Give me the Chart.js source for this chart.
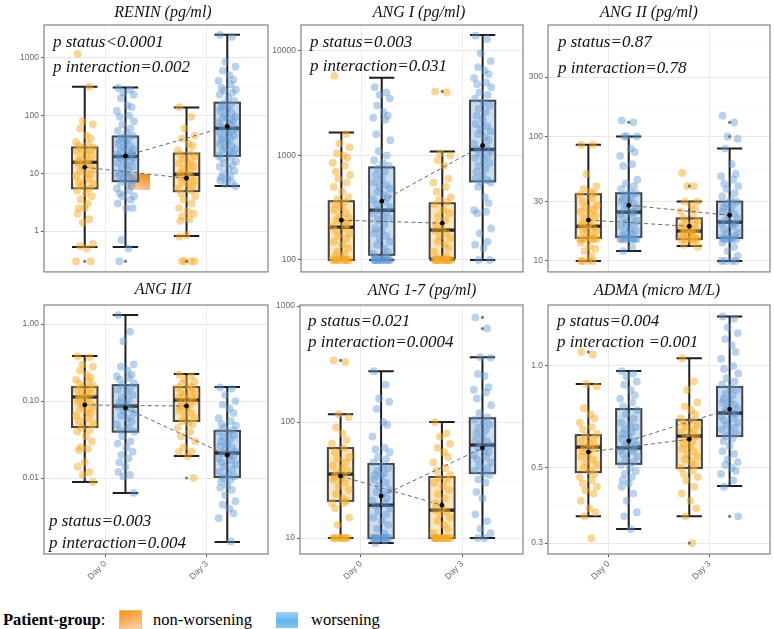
<!DOCTYPE html>
<html>
<head>
<meta charset="utf-8">
<script src="https://cdn.jsdelivr.net/npm/chart.js@4.4.0/dist/chart.umd.min.js"></script>
<style>
  body { margin: 0; width: 774px; height: 629px; overflow: hidden; background: #fff; position: relative; font-family: "Liberation Serif", serif; }
  canvas { position: absolute; }
  .title { position: absolute; font-style: italic; font-size: 16px; line-height: 20px; color: #111; white-space: nowrap; transform: translateX(-50%); }
  .pval { position: absolute; font-style: italic; font-size: 17px; line-height: 20px; color: #111; white-space: nowrap; }
  .lg { position: absolute; font-size: 16.5px; line-height: 20px; color: #000; white-space: nowrap; }
  .key { position: absolute; box-sizing: border-box; }
</style>
</head>
<body>
<div class="lg" style="left:3px; top:610px;"><b>Patient-group</b>:</div>
<div class="key" style="left:119px; top:610px; width:23px; height:22px; border:1.5px solid #f8c234; background:linear-gradient(160deg, #f7901a, #fbc48a 70%, #fde2c4);"></div>
<div class="lg" style="left:153px; top:610px;">non-worsening</div>
<div class="key" style="left:276px; top:612px; width:22px; height:16px; background:linear-gradient(180deg, #9fd3f2, #5cb6ea 60%, #8ccbf0);"></div>
<div class="lg" style="left:311px; top:610px;">worsening</div>
<div class="key" style="left:128px; top:173px; width:22px; height:17px; background:linear-gradient(200deg, #f5860e, #f9b069 55%, #fde0c2);"></div>

<script>
// groups in drawing order: non-worsening Day 0, worsening Day 0, non-worsening Day 3, worsening Day 3
const days = ['Day 0', 'Day 3'];
const groups = ['non-worsening', 'worsening'];

// box stats per group: [lower whisker, q1, median, q3, upper whisker, mean]
const reninBox = [
  [0.53, 5.5, 15.5, 28, 316, 12.7],
  [0.53, 7.3, 19.5, 43.5, 305, 20],
  [0.82, 4.9, 9.6, 22, 138, 8.2],
  [6, 20, 60, 167, 2500, 65]
];
const reninPts = [
  [1170, 316, 80, 70, 60, 45, 40, 35, 32, 30, 28, 27, 25, 24, 22, 20, 18, 17, 16, 15.5, 15, 14, 13, 12, 11, 10, 9.5, 9, 8, 7, 6.5, 6, 5.5, 5, 4.5, 4, 3.5, 3, 2.5, 2.5, 2, 1.6, 1.4, 0.6, 0.55, 0.5, 0.3, 0.3],
  [300, 280, 250, 230, 200, 150, 140, 120, 100, 95, 80, 70, 60, 55, 50, 45, 42, 40, 38, 35, 32, 30, 28, 26, 25, 24, 22, 21, 20, 19, 18, 17, 16, 15, 14, 13, 12, 11, 10, 9.5, 9, 8.5, 8, 7.5, 7, 6.5, 6, 5.5, 5, 4.5, 4, 4, 3.5, 3, 2.5, 2.5, 0.7, 0.5, 0.3],
  [140, 95, 60, 45, 40, 32, 30, 25, 22, 21, 20, 18, 16, 15, 14, 13, 12, 11, 10, 9.5, 9, 8.5, 8, 7.5, 7, 6.5, 6, 5.5, 5, 4.5, 4, 3.5, 3, 2.5, 2.2, 2, 1.8, 1.6, 1.5, 0.85, 0.8, 0.3, 0.3, 0.3, 0.3],
  [2500, 2300, 850, 700, 600, 500, 420, 400, 350, 300, 280, 270, 250, 230, 200, 180, 160, 150, 140, 130, 120, 110, 100, 95, 90, 85, 80, 75, 70, 65, 60, 58, 55, 50, 48, 45, 42, 40, 38, 35, 32, 30, 28, 26, 25, 24, 22, 20, 19, 18, 16, 15, 14, 13, 12, 11, 10, 9, 8.5, 8, 7.5, 7, 6.5, 6]
];
const reninOut = [[0.3], [0.3], [0.3], []];
const reninTicks = [1, 10, 100, 1000];
const reninLabels = ['1', '10', '100', '1000'];
const reninMinor = [0.316, 3.16, 31.6, 316, 3162];

const angIBox = [
  [100, 100, 206, 365, 1655, 240],
  [100, 112, 299, 769, 5530, 365],
  [100, 104, 193, 349, 1090, 225],
  [100, 565, 1140, 3340, 14200, 1245]
];
const angIPts = [
  [5800, 1600, 1300, 1200, 1050, 1000, 950, 850, 800, 700, 650, 600, 550, 500, 450, 400, 380, 360, 340, 320, 300, 280, 260, 250, 240, 230, 220, 210, 200, 190, 180, 170, 160, 150, 140, 130, 120, 115, 110, 105, 100, 100, 100, 100, 100, 100, 100, 100, 100, 100],
  [4500, 4000, 3800, 3500, 3000, 2600, 2400, 2300, 2200, 1600, 1400, 1100, 1000, 900, 850, 800, 750, 700, 650, 600, 550, 520, 500, 480, 450, 420, 400, 380, 360, 340, 320, 300, 290, 280, 260, 250, 240, 220, 200, 190, 180, 170, 160, 150, 140, 130, 120, 115, 110, 105, 100, 100, 100, 100, 100, 100, 100, 100, 100, 100, 100],
  [4100, 4000, 1050, 1000, 900, 800, 600, 550, 500, 450, 400, 380, 360, 340, 300, 280, 260, 240, 220, 200, 190, 180, 170, 160, 150, 140, 130, 120, 110, 105, 100, 100, 100, 100, 100, 100, 100, 100, 100, 100, 100, 100],
  [14000, 13000, 9500, 8000, 7000, 6500, 6000, 5500, 5000, 4800, 4500, 4000, 3800, 3500, 3200, 3000, 2800, 2600, 2400, 2200, 2000, 1900, 1800, 1700, 1600, 1500, 1400, 1300, 1200, 1150, 1100, 1050, 1000, 950, 900, 850, 800, 750, 700, 650, 600, 580, 560, 550, 500, 400, 350, 300, 290, 280, 200, 180, 150, 140, 130, 100, 100]
];
const angIOut = [[], [], [4100], []];
const angITicks = [100, 1000, 10000];
const angILabels = ['100', '1000', '10000'];
const angIMinor = [316, 3162];

const angIIBox = [
  [10, 15.3, 19, 34.4, 86, 21.3],
  [12, 15.6, 24.7, 35, 100, 28],
  [13.2, 15, 17.4, 22, 30, 19],
  [10, 15.3, 20.5, 30, 80, 23.3]
];
const angIIPts = [
  [86, 86, 50, 40, 38, 36, 35, 34, 32, 30, 28, 27, 26, 25, 24, 23, 22, 21, 20, 19.5, 19, 18.5, 18, 17.5, 17, 16, 15.5, 15, 15, 15, 15, 15, 15, 14, 13, 12.5, 12, 11, 10, 10, 10, 10],
  [135, 130, 100, 100, 100, 80, 75, 70, 60, 58, 45, 42, 40, 38, 36, 35, 34, 33, 32, 30, 30, 29, 28, 27, 26, 25, 25, 24, 23, 22, 21, 20, 20, 19, 18, 17.5, 17, 16.5, 16, 15.5, 15, 15, 15, 15, 15, 15, 15, 15, 13, 12],
  [51, 40, 40, 30, 30, 28, 26, 25, 24, 22, 21, 20, 20, 19, 18, 18, 17.5, 17, 17, 16.5, 16, 15.5, 15, 15, 15, 15, 15, 15, 14, 13.5, 13],
  [147, 130, 100, 96, 80, 60, 50, 48, 45, 42, 40, 38, 35, 33, 31, 30, 29, 28, 27, 26, 25, 24, 23, 22, 21, 20, 20, 20, 19, 18, 17, 16.5, 16, 15.5, 15, 15, 15, 15, 15, 15, 14, 13, 12, 11, 10, 10, 10, 10]
];
const angIIOut = [[], [130], [40], [130, 100]];
const angIITicks = [10, 30, 100, 300];
const angIILabels = ['10', '30', '100', '300'];
const angIIMinor = [17.3, 54.8, 173, 548];

const ratioBox = [
  [0.0089, 0.046, 0.113, 0.152, 0.384, 0.089],
  [0.0064, 0.040, 0.086, 0.161, 1.31, 0.081],
  [0.0193, 0.055, 0.103, 0.152, 0.224, 0.086],
  [0.00148, 0.0103, 0.0211, 0.041, 0.152, 0.0198]
];
const ratioPts = [
  [0.38, 0.37, 0.3, 0.28, 0.25, 0.22, 0.2, 0.19, 0.18, 0.17, 0.16, 0.15, 0.15, 0.14, 0.13, 0.125, 0.12, 0.115, 0.11, 0.105, 0.1, 0.095, 0.09, 0.085, 0.08, 0.075, 0.07, 0.065, 0.06, 0.055, 0.05, 0.045, 0.042, 0.04, 0.035, 0.03, 0.025, 0.024, 0.023, 0.016, 0.014, 0.012, 0.011, 0.0089],
  [1.31, 0.8, 0.6, 0.3, 0.28, 0.25, 0.22, 0.21, 0.2, 0.19, 0.17, 0.16, 0.15, 0.14, 0.13, 0.12, 0.11, 0.1, 0.095, 0.09, 0.085, 0.08, 0.075, 0.07, 0.065, 0.06, 0.055, 0.05, 0.045, 0.042, 0.04, 0.035, 0.03, 0.028, 0.025, 0.022, 0.02, 0.018, 0.016, 0.014, 0.012, 0.011, 0.0105, 0.0064],
  [0.22, 0.21, 0.19, 0.18, 0.17, 0.16, 0.15, 0.15, 0.14, 0.13, 0.125, 0.12, 0.115, 0.11, 0.105, 0.1, 0.095, 0.09, 0.085, 0.08, 0.075, 0.07, 0.065, 0.06, 0.055, 0.052, 0.05, 0.045, 0.04, 0.035, 0.03, 0.025, 0.022, 0.022, 0.0193, 0.01],
  [0.15, 0.145, 0.12, 0.1, 0.09, 0.08, 0.07, 0.06, 0.055, 0.05, 0.048, 0.045, 0.042, 0.04, 0.038, 0.036, 0.034, 0.032, 0.03, 0.028, 0.026, 0.025, 0.024, 0.022, 0.021, 0.02, 0.019, 0.018, 0.017, 0.016, 0.015, 0.014, 0.013, 0.012, 0.011, 0.0105, 0.01, 0.0095, 0.009, 0.008, 0.0075, 0.007, 0.006, 0.005, 0.0045, 0.004, 0.0035, 0.003, 0.0015]
];
const ratioOut = [[], [], [0.01], []];
const ratioTicks = [0.01, 0.1, 1];
const ratioLabels = ['0.01', '0.10', '1.00'];
const ratioMinor = [0.00316, 0.0316, 0.316];

const ang17Box = [
  [10, 20.9, 35.6, 59.7, 117, 34.2],
  [9.06, 10, 19.2, 43.5, 275, 23],
  [10, 10, 17.4, 33.6, 100, 19.2],
  [10, 36.3, 63.4, 108, 363, 59.7]
];
const ang17Pts = [
  [340, 330, 117, 110, 90, 80, 70, 65, 60, 55, 50, 48, 45, 42, 40, 38, 36, 35, 34, 33, 32, 30, 28, 26, 24, 22, 21, 20, 20, 18, 15, 13, 10, 10, 10, 10, 10, 10, 10, 10],
  [275, 210, 160, 150, 130, 100, 95, 75, 60, 58, 55, 50, 48, 45, 42, 40, 38, 36, 35, 34, 32, 30, 28, 26, 25, 24, 22, 21, 20, 19, 18, 17, 16, 15, 14, 13, 12, 11, 10, 10, 10, 10, 10, 10, 10, 10, 10, 10, 9.5, 9.06],
  [100, 80, 75, 65, 60, 55, 50, 45, 40, 38, 35, 33, 32, 30, 28, 26, 24, 22, 20, 18, 17.5, 17, 16, 15, 14, 13, 12, 11, 10, 10, 10, 10, 10, 10, 10, 10, 10, 10, 10, 10, 10],
  [800, 640, 363, 360, 260, 250, 200, 190, 180, 160, 140, 120, 110, 105, 100, 95, 90, 85, 80, 75, 70, 68, 65, 63, 60, 58, 55, 52, 50, 48, 45, 42, 40, 38, 36, 35, 32, 30, 25, 22, 16, 14, 12, 11, 10, 10]
];
const ang17Out = [[340], [], [], [800, 640]];
const ang17Ticks = [10, 100, 1000];
const ang17Labels = ['10', '100', '1000'];
const ang17Minor = [31.6, 316];

const admaBox = [
  [0.36, 0.486, 0.576, 0.625, 0.885, 0.557],
  [0.33, 0.514, 0.573, 0.746, 0.966, 0.601],
  [0.36, 0.5, 0.621, 0.693, 1.054, 0.608],
  [0.442, 0.621, 0.726, 0.867, 1.40, 0.746]
];
const admaPts = [
  [1.1, 1.08, 0.885, 0.87, 0.75, 0.72, 0.7, 0.68, 0.66, 0.65, 0.63, 0.62, 0.61, 0.6, 0.59, 0.58, 0.575, 0.57, 0.56, 0.55, 0.54, 0.53, 0.52, 0.51, 0.5, 0.49, 0.48, 0.47, 0.46, 0.45, 0.44, 0.43, 0.42, 0.40, 0.38, 0.37, 0.36, 0.31],
  [0.966, 0.95, 0.93, 0.9, 0.88, 0.85, 0.82, 0.8, 0.78, 0.76, 0.74, 0.72, 0.7, 0.68, 0.67, 0.66, 0.65, 0.64, 0.63, 0.62, 0.61, 0.6, 0.59, 0.585, 0.58, 0.575, 0.57, 0.565, 0.56, 0.55, 0.54, 0.53, 0.52, 0.51, 0.5, 0.49, 0.48, 0.47, 0.46, 0.45, 0.44, 0.42, 0.4, 0.37, 0.36, 0.33],
  [1.054, 0.9, 0.85, 0.78, 0.76, 0.74, 0.72, 0.7, 0.69, 0.68, 0.67, 0.66, 0.65, 0.64, 0.63, 0.62, 0.61, 0.6, 0.59, 0.58, 0.57, 0.56, 0.55, 0.54, 0.53, 0.52, 0.51, 0.5, 0.49, 0.48, 0.47, 0.46, 0.44, 0.42, 0.40, 0.38, 0.36, 0.3],
  [1.4, 1.38, 1.3, 1.25, 1.2, 1.15, 1.1, 1.05, 1.0, 0.98, 0.95, 0.92, 0.9, 0.88, 0.86, 0.85, 0.83, 0.82, 0.8, 0.79, 0.78, 0.77, 0.76, 0.75, 0.74, 0.73, 0.72, 0.71, 0.7, 0.69, 0.68, 0.67, 0.66, 0.65, 0.64, 0.63, 0.62, 0.61, 0.6, 0.58, 0.56, 0.55, 0.53, 0.52, 0.51, 0.5, 0.49, 0.48, 0.46, 0.44, 0.36]
];
const admaOut = [[1.1], [], [0.3], [0.36]];
const admaTicks = [0.3, 0.5, 1.0];
const admaLabels = ['0.3', '0.5', '1.0'];
const admaMinor = [0.387, 0.707, 1.414];

// layout of the six panels (plot area in page pixels)
const panels = [
  { title: 'RENIN (pg/ml)', tx: 163, ty: 12, p: ['p status<0.0001', 'p interaction=0.002'], px: 53, py: [42, 67],
    box: reninBox, pts: reninPts, out: reninOut, ticks: reninTicks, labels: reninLabels, minor: reninMinor,
    ymin: 0.196, ymax: 3700, left: 44, top: 25, w: 224, h: 248, xlab: false },
  { title: 'ANG I (pg/ml)', tx: 419, ty: 12, p: ['p status=0.003', 'p interaction=0.031'], px: 310, py: [42, 66],
    box: angIBox, pts: angIPts, out: angIOut, ticks: angITicks, labels: angILabels, minor: angIMinor,
    ymin: 76.9, ymax: 17700, left: 301, top: 25, w: 222, h: 248, xlab: false },
  { title: 'ANG II (pg/ml)', tx: 649, ty: 12, p: ['p status=0.87', 'p interaction=0.78'], px: 558, py: [42, 68],
    box: angIIBox, pts: angIIPts, out: angIIOut, ticks: angIITicks, labels: angIILabels, minor: angIIMinor,
    ymin: 8.17, ymax: 787, left: 548, top: 25, w: 222, h: 248, xlab: false },
  { title: 'ANG II/I', tx: 163, ty: 289, p: ['p status=0.003', 'p interaction=0.004'], px: 49, py: [521, 543],
    box: ratioBox, pts: ratioPts, out: ratioOut, ticks: ratioTicks, labels: ratioLabels, minor: ratioMinor,
    ymin: 0.00103, ymax: 1.77, left: 44, top: 305, w: 224, h: 249, xlab: true },
  { title: 'ANG 1-7 (pg/ml)', tx: 422, ty: 290, p: ['p status=0.021', 'p interaction=0.0004'], px: 308, py: [321, 342],
    box: ang17Box, pts: ang17Pts, out: ang17Out, ticks: ang17Ticks, labels: ang17Labels, minor: ang17Minor,
    ymin: 7.28, ymax: 1023, left: 300, top: 305, w: 223, h: 249, xlab: true },
  { title: 'ADMA (micro M/L)', tx: 657, ty: 290, p: ['p status=0.004', 'p interaction =0.001'], px: 557, py: [321, 342],
    box: admaBox, pts: admaPts, out: admaOut, ticks: admaTicks, labels: admaLabels, minor: admaMinor,
    ymin: 0.2786, ymax: 1.513, left: 548, top: 305, w: 222, h: 249, xlab: true }
];

const POINT_COL = ['rgba(246, 172, 40, 0.5)', 'rgba(98, 152, 212, 0.45)'];
const BOX_FILL = ['rgba(252, 205, 120, 0.5)', 'rgba(150, 186, 226, 0.5)'];
const JITTER = [-0.07, 0.045, -0.02, 0.08, -0.045, 0.02, 0.06, -0.085, 0.035, -0.055, 0.085, -0.03, 0.05, -0.075, 0.01, 0.07, -0.04, 0.03, -0.06, 0];
const BOX_HALF = 0.125;
const Y_AXIS_W = 44, PAD_T = 8, PAD_R = 6;

function groupX(g) {
  return 1 + Math.floor(g / 2) + (g % 2 === 0 ? -0.2 : 0.2);
}

function boxPlugin(panel) {
  return {
    id: 'boxes',
    beforeDatasetsDraw(chart) {
      const { ctx, scales: { x, y } } = chart;
      panel.box.forEach((s, g) => {
        const cx = x.getPixelForValue(groupX(g));
        const xl = x.getPixelForValue(groupX(g) - BOX_HALF);
        const xr = x.getPixelForValue(groupX(g) + BOX_HALF);
        const [lo, q1, med, q3, hi] = s.map(v => y.getPixelForValue(v));
        ctx.save();
        ctx.fillStyle = BOX_FILL[g % 2];
        ctx.fillRect(xl, q3, xr - xl, q1 - q3);
        ctx.strokeStyle = '#1e1e1e';
        ctx.lineWidth = 2;
        ctx.beginPath();
        ctx.moveTo(cx, lo); ctx.lineTo(cx, hi);
        ctx.moveTo(xl, lo); ctx.lineTo(xr, lo);
        ctx.moveTo(xl, hi); ctx.lineTo(xr, hi);
        ctx.stroke();
        ctx.strokeStyle = '#444';
        ctx.strokeRect(xl, q3, xr - xl, q1 - q3);
        ctx.lineWidth = 3.4;
        ctx.strokeStyle = '#2a2a2a';
        ctx.beginPath(); ctx.moveTo(xl, med); ctx.lineTo(xr, med); ctx.stroke();
        ctx.restore();
      });
    },
    afterDraw(chart) {
      const { ctx, chartArea: a } = chart;
      ctx.save();
      ctx.strokeStyle = '#8c8c8c';
      ctx.lineWidth = 1.3;
      ctx.strokeRect(a.left, a.top, a.right - a.left, a.bottom - a.top);
      ctx.restore();
    }
  };
}

function addText(cls, text, left, top) {
  const d = document.createElement('div');
  d.className = cls;
  d.textContent = text;
  d.style.left = left + 'px';
  d.style.top = top + 'px';
  document.body.appendChild(d);
}

panels.forEach(panel => {
  const xAxisH = panel.xlab ? 34 : 0;
  const padB = panel.xlab ? 0 : 6;
  const canvas = document.createElement('canvas');
  canvas.width = Y_AXIS_W + panel.w + PAD_R;
  canvas.height = PAD_T + panel.h + xAxisH + padB;
  canvas.style.left = (panel.left - Y_AXIS_W) + 'px';
  canvas.style.top = (panel.top - PAD_T) + 'px';
  document.body.appendChild(canvas);

  const datasets = [];
  // mean markers joined across days, one line per patient group
  [0, 1].forEach(s => {
    datasets.push({
      data: [{ x: groupX(s), y: panel.box[s][5] }, { x: groupX(s + 2), y: panel.box[s + 2][5] }],
      showLine: true, borderColor: '#666', borderWidth: 1, borderDash: [4, 3],
      pointRadius: 2.4, pointBackgroundColor: '#000', pointBorderWidth: 0
    });
  });
  panel.out.forEach((vals, g) => {
    datasets.push({
      data: vals.map(v => ({ x: groupX(g), y: v })),
      pointRadius: 1.6, backgroundColor: '#777', borderWidth: 0
    });
  });
  panel.pts.forEach((vals, g) => {
    datasets.push({
      data: vals.map((v, i) => ({ x: groupX(g) + JITTER[i % JITTER.length], y: v })),
      pointRadius: 3.9, backgroundColor: POINT_COL[g % 2], borderWidth: 0
    });
  });

  const majorSet = new Set(panel.ticks);
  const allTicks = panel.ticks.concat(panel.minor).filter(v => v >= panel.ymin && v <= panel.ymax);

  new Chart(canvas.getContext('2d'), {
    type: 'scatter',
    data: { datasets },
    plugins: [boxPlugin(panel)],
    options: {
      responsive: false,
      animation: false,
      devicePixelRatio: 1,
      events: [],
      layout: { padding: { top: PAD_T, right: PAD_R, bottom: padB, left: 0 } },
      plugins: { legend: { display: false }, tooltip: { enabled: false } },
      scales: {
        x: {
          type: 'linear', min: 0.4, max: 2.6,
          afterBuildTicks: s => { s.ticks = [{ value: 1 }, { value: 2 }]; },
          afterFit: s => { s.height = xAxisH; },
          border: { display: false },
          grid: { color: '#ebebeb', lineWidth: 1, drawTicks: panel.xlab, tickLength: 3, tickColor: '#555' },
          ticks: {
            display: panel.xlab, minRotation: 45, maxRotation: 45, padding: 2, autoSkip: false,
            color: '#666', font: { family: 'Liberation Sans', size: 8.5 },
            callback: v => days[v - 1]
          }
        },
        y: {
          type: 'logarithmic', min: panel.ymin, max: panel.ymax,
          afterBuildTicks: s => { s.ticks = allTicks.map(v => ({ value: v })); },
          afterFit: s => { s.width = Y_AXIS_W; },
          border: { display: false },
          grid: {
            color: c => majorSet.has(c.tick && c.tick.value) ? '#e8e8e8' : '#f3f3f3',
            lineWidth: c => majorSet.has(c.tick && c.tick.value) ? 1 : 0.6,
            tickLength: 3,
            tickColor: c => majorSet.has(c.tick && c.tick.value) ? '#555' : 'rgba(0,0,0,0)'
          },
          ticks: {
            padding: 2, autoSkip: false, color: '#666', font: { family: 'Liberation Sans', size: 8.5 },
            callback: v => { const i = panel.ticks.indexOf(v); return i >= 0 ? panel.labels[i] : ''; }
          }
        }
      }
    }
  });

  const t = document.createElement('div');
  t.className = 'title';
  t.textContent = panel.title;
  t.style.left = panel.tx + 'px';
  t.style.top = (panel.ty - 10) + 'px';
  document.body.appendChild(t);
  panel.p.forEach((line, i) => addText('pval', line, panel.px, panel.py[i] - 10));
});
</script>
</body>
</html>
